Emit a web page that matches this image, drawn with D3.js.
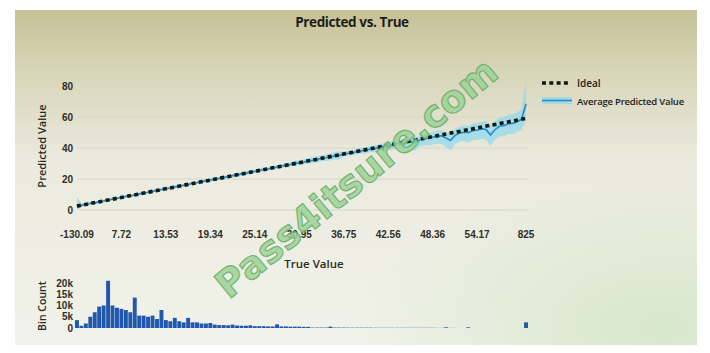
<!DOCTYPE html>
<html>
<head>
<meta charset="utf-8">
<script src="https://cdn.jsdelivr.net/npm/d3@7"></script>
<style>
  html, body { margin: 0; padding: 0; background: #fff; }
  svg { display: block; font-family: 'Open Sans', sans-serif; }
  .axis text { fill: #2e2e2a; font-size: 10px; font-weight: 600; }
  .axis path, .axis line { display: none; }
</style>
</head>
<body>
<svg id="chart" width="710" height="353"></svg>
<script>
// bins of True Value (index), labels shown every 10 bins plus the last bin
const tickBins = [0, 10, 20, 30, 40, 50, 60, 70, 80, 90, 101];
const tickLabels = ['-130.09', '7.72', '13.53', '19.34', '25.14', '30.95', '36.75', '42.56', '48.36', '54.17', '825'];

// ideal line: straight from first to last bin
const ideal = [{ bin: 0, value: 2.5 }, { bin: 101, value: 59.1 }];

// average predicted value per bin
const predicted = [
  3.2, 3.0, 3.5, 4.3, 4.6, 5.4, 5.8, 6.5, 7.0, 7.6,
  8.0, 8.8, 9.2, 9.7, 10.4, 10.8, 11.5, 12.1, 12.5, 13.2,
  13.8, 14.2, 14.9, 15.4, 16.0, 16.5, 17.2, 17.6, 18.3, 18.8,
  19.4, 19.9, 20.4, 21.1, 21.5, 22.2, 22.6, 23.3, 23.8, 24.4,
  24.9, 25.6, 26.0, 26.5, 27.2, 27.7, 28.4, 28.8, 29.3, 30.1,
  30.4, 31.0, 31.7, 32.1, 32.6, 33.4, 33.7, 34.2, 35.0, 35.3,
  35.9, 36.6, 36.9, 37.8, 38.2, 38.5, 39.4, 39.6, 40.4, 41.0,
  41.5, 42.0, 42.9, 43.0, 43.9, 44.4, 42.8, 45.1, 46.0, 46.3,
  47.0, 47.8, 47.9, 46.5, 44.8, 48.0, 49.6, 50.2, 49.9, 51.1,
  51.6, 52.3, 52.0, 48.4, 51.8, 54.0, 54.4, 55.6, 55.9, 57.0,
  58.6, 68.5
];
const bandLow = [
  0.0, 1.9, 2.7, 3.4, 3.8, 4.5, 5.0, 5.6, 6.2, 6.7,
  7.2, 7.9, 8.4, 8.9, 9.5, 10.0, 10.6, 11.2, 11.6, 12.3,
  12.9, 13.3, 14.0, 14.5, 15.1, 15.6, 16.2, 16.7, 17.3, 17.8,
  18.4, 18.9, 19.4, 20.0, 20.4, 21.0, 21.4, 22.1, 22.5, 23.0,
  24.0, 24.6, 25.0, 25.5, 26.1, 26.5, 27.2, 27.5, 27.9, 28.6,
  28.9, 29.4, 30.0, 30.3, 30.7, 31.5, 31.6, 31.9, 32.7, 32.8,
  34.5, 35.2, 35.3, 36.0, 36.4, 36.5, 37.2, 37.2, 37.9, 38.4,
  38.6, 38.9, 39.6, 39.4, 40.2, 40.6, 38.0, 41.0, 41.8, 41.6,
  42.2, 42.8, 42.6, 40.5, 38.5, 42.4, 44.2, 44.4, 43.6, 45.2,
  45.4, 46.0, 45.2, 41.5, 45.4, 47.4, 47.6, 49.0, 48.9, 50.2,
  51.8, 58.0
];
const bandHigh = [
  8.0, 4.5, 4.3, 5.1, 5.4, 6.2, 6.6, 7.3, 7.8, 8.4,
  8.8, 9.6, 10.0, 10.5, 11.2, 11.6, 12.3, 12.9, 13.3, 14.0,
  14.6, 15.0, 15.7, 16.2, 16.8, 17.3, 18.0, 18.4, 19.1, 19.6,
  20.3, 20.8, 21.3, 22.0, 22.5, 23.2, 23.7, 24.4, 24.9, 25.6,
  26.0, 26.7, 27.2, 27.6, 28.4, 28.9, 29.7, 30.2, 30.8, 31.7,
  32.0, 32.7, 33.5, 34.0, 34.6, 35.4, 35.8, 36.4, 37.3, 37.8,
  37.4, 38.2, 38.6, 39.6, 40.0, 40.4, 41.4, 41.7, 42.5, 43.2,
  43.9, 44.5, 45.5, 45.7, 46.7, 47.3, 46.0, 48.2, 49.2, 49.6,
  50.4, 51.3, 51.5, 50.4, 49.5, 52.1, 53.6, 54.3, 54.4, 55.6,
  56.2, 57.0, 57.2, 55.0, 57.4, 59.6, 60.0, 61.4, 61.8, 63.0,
  64.8, 84.0
];

// histogram counts per bin
const binCounts = [
  3500, 1000, 2000, 5000, 7000, 9500, 10000, 21000, 10000, 9000,
  8500, 8000, 7000, 13500, 5500, 5500, 5000, 5500, 4000, 8000,
  3500, 3000, 4500, 3000, 2500, 4500, 2500, 2500, 2000, 2000,
  2200, 1500, 1300, 1300, 1200, 1500, 1100, 1000, 1000, 1200,
  800, 800, 800, 700, 700, 1600, 700, 700, 600, 600,
  600, 500, 500, 200, 200, 200, 200, 600, 200, 200,
  200, 150, 150, 150, 150, 150, 150, 100, 100, 100,
  100, 100, 100, 100, 100, 100, 100, 100, 100, 100,
  100, 50, 50, 300, 50, 50, 0, 0, 300, 0,
  0, 0, 0, 0, 0, 0, 0, 0, 0, 0,
  0, 2500
];
const countTicks = [0, 5000, 10000, 15000, 20000];
const countLabels = ['0', '5k', '10k', '15k', '20k'];

const svg = d3.select('#chart');
const defs = svg.append('defs');

// photographed-screen background
const bg = defs.append('linearGradient').attr('id', 'bg')
  .attr('x1', 0).attr('y1', 0).attr('x2', 0).attr('y2', 1);
bg.append('stop').attr('offset', '0%').attr('stop-color', '#c6c196');
bg.append('stop').attr('offset', '18%').attr('stop-color', '#d8d5b8');
bg.append('stop').attr('offset', '45%').attr('stop-color', '#ebeade');
bg.append('stop').attr('offset', '100%').attr('stop-color', '#f1f2ea');
const tint = defs.append('radialGradient').attr('id', 'tint')
  .attr('cx', 0.95).attr('cy', 0.95).attr('r', 0.45);
tint.append('stop').attr('offset', '0%').attr('stop-color', '#d4e6c8').attr('stop-opacity', 0.9);
tint.append('stop').attr('offset', '100%').attr('stop-color', '#d4e6c8').attr('stop-opacity', 0);

svg.append('rect').attr('x', 15).attr('y', 10).attr('width', 682).attr('height', 335)
  .attr('fill', 'url(#bg)');
svg.append('rect').attr('x', 15).attr('y', 10).attr('width', 682).attr('height', 335)
  .attr('fill', 'url(#tint)');

const x = d3.scaleBand()
  .domain(d3.range(predicted.length))
  .range([75, 528])
  .paddingInner(0.12);
const cx = (i) => x(i) + x.bandwidth() / 2;

const y = d3.scaleLinear().domain([0, 80]).range([210, 86]);
const yHist = d3.scaleLinear().domain([0, 20000]).range([328, 283]);

// title
svg.append('text')
  .attr('x', 352).attr('y', 27)
  .attr('text-anchor', 'middle')
  .attr('font-size', 13.5).attr('font-weight', 700)
  .attr('letter-spacing', -0.4)
  .attr('fill', '#1d1d18')
  .text('Predicted vs. True');

// grid
svg.append('g')
  .selectAll('line')
  .data(y.ticks(4))
  .join('line')
  .attr('x1', 78).attr('x2', 528)
  .attr('y1', (d) => y(d)).attr('y2', (d) => y(d))
  .attr('stroke', '#d6d6cc').attr('stroke-width', 1);

// axes
svg.append('g')
  .attr('class', 'axis')
  .attr('transform', 'translate(76,0)')
  .call(d3.axisLeft(y).tickValues([0, 20, 40, 60, 80]).tickSize(0).tickPadding(3));

svg.append('g')
  .attr('class', 'axis')
  .attr('transform', 'translate(0,223)')
  .call(d3.axisBottom(x)
    .tickValues(tickBins)
    .tickFormat((d, i) => tickLabels[i])
    .tickSize(0).tickPadding(8));

svg.append('g')
  .attr('class', 'axis')
  .attr('transform', 'translate(74,0)')
  .call(d3.axisLeft(yHist).tickValues(countTicks)
    .tickFormat((d, i) => countLabels[i]).tickSize(0).tickPadding(1));

// axis titles
svg.append('text')
  .attr('transform', 'translate(46,146) rotate(-90)')
  .attr('text-anchor', 'middle')
  .attr('font-size', 11).attr('font-weight', 600).attr('fill', '#2a2a25')
  .text('Predicted Value');
svg.append('text')
  .attr('x', 314).attr('y', 268)
  .attr('text-anchor', 'middle')
  .attr('font-size', 11.5).attr('font-weight', 600).attr('fill', '#2a2a25')
  .text('True Value');
svg.append('text')
  .attr('transform', 'translate(46,306) rotate(-90)')
  .attr('text-anchor', 'middle')
  .attr('font-size', 10.5).attr('font-weight', 600).attr('fill', '#2a2a25')
  .text('Bin Count');

// predicted band and line
svg.append('path')
  .datum(predicted)
  .attr('fill', '#8cdaf0').attr('fill-opacity', 0.7)
  .attr('d', d3.area()
    .x((d, i) => cx(i))
    .y0((d, i) => y(bandLow[i]))
    .y1((d, i) => y(bandHigh[i])));
svg.append('path')
  .datum(predicted)
  .attr('fill', 'none').attr('stroke', '#2b86c8').attr('stroke-width', 1.6)
  .attr('d', d3.line().x((d, i) => cx(i)).y((d) => y(d)));

// ideal line
svg.append('path')
  .datum(ideal)
  .attr('fill', 'none').attr('stroke', '#0e1a12').attr('stroke-width', 3.6)
  .attr('stroke-dasharray', '4,3.3')
  .attr('d', d3.line().x((d) => cx(d.bin)).y((d) => y(d.value)));

// histogram
svg.append('g')
  .selectAll('rect')
  .data(binCounts)
  .join('rect')
  .attr('x', (d, i) => x(i))
  .attr('y', (d) => yHist(d))
  .attr('width', x.bandwidth())
  .attr('height', (d) => yHist(0) - yHist(d))
  .attr('fill', '#2058ae');

// legend
const legend = svg.append('g').attr('transform', 'translate(542,0)');
legend.append('line')
  .attr('x1', 0).attr('x2', 29).attr('y1', 83).attr('y2', 83)
  .attr('stroke', '#0e1a12').attr('stroke-width', 3.6).attr('stroke-dasharray', '4,3.3');
legend.append('text').attr('x', 35).attr('y', 87)
  .attr('font-size', 10).attr('font-weight', 600).attr('fill', '#22221d').text('Ideal');
legend.append('rect')
  .attr('x', 0).attr('y', 97).attr('width', 30).attr('height', 7)
  .attr('fill', '#8cdaf0').attr('fill-opacity', 0.7);
legend.append('line')
  .attr('x1', 0).attr('x2', 30).attr('y1', 100.5).attr('y2', 100.5)
  .attr('stroke', '#2b86c8').attr('stroke-width', 1.6);
legend.append('text').attr('x', 35).attr('y', 105)
  .attr('font-size', 9.5).attr('font-weight', 600).attr('letter-spacing', -0.2)
  .attr('fill', '#22221d').text('Average Predicted Value');

// watermark
svg.append('text')
  .attr('transform', 'translate(358,180) rotate(-39.5)')
  .attr('text-anchor', 'middle').attr('dominant-baseline', 'middle')
  .attr('font-family', 'DejaVu Sans, sans-serif')
  .attr('font-size', 38).attr('font-weight', 700)
  .attr('fill', '#9dd296').attr('fill-opacity', 0.85)
  .attr('stroke', '#5fa862').attr('stroke-width', 1.2).attr('stroke-opacity', 0.8)
  .text('Pass4itsure.com');
</script>
</body>
</html>
